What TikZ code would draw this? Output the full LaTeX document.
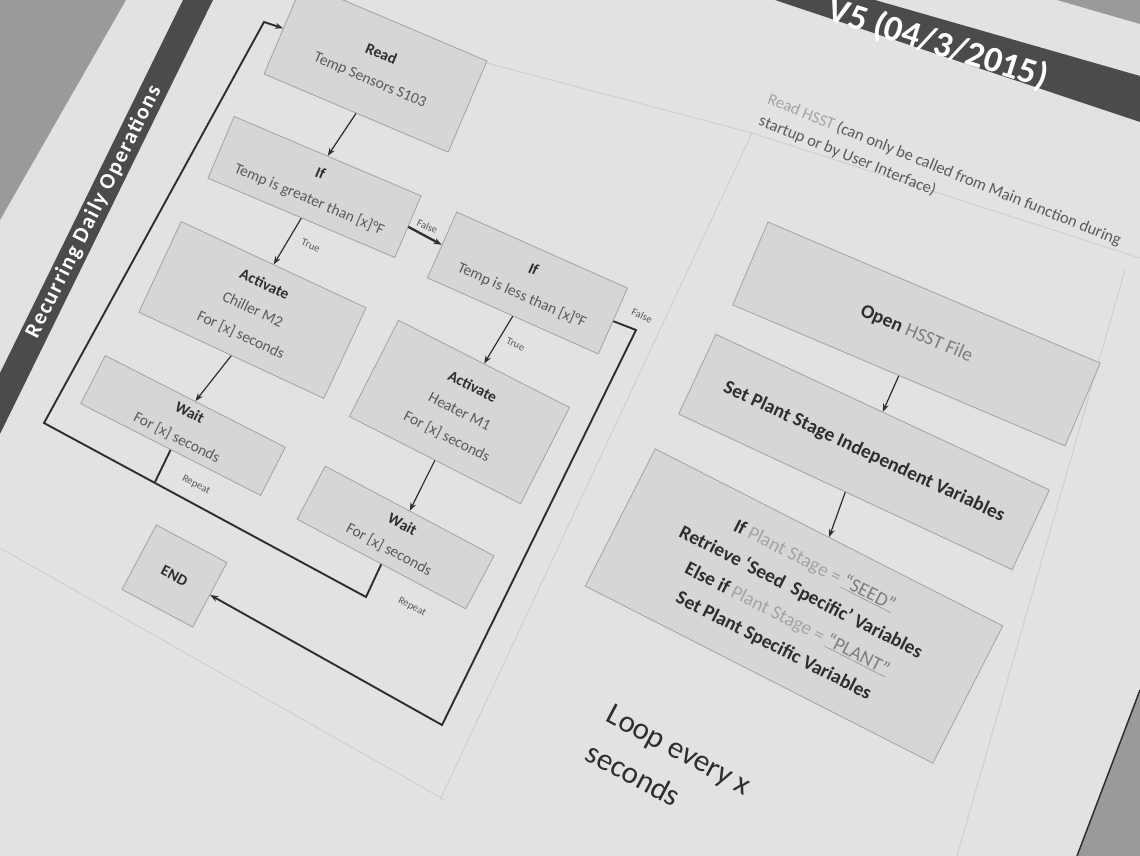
\documentclass[tikz,border=0pt]{standalone}
\usepackage{fontspec}
\setmainfont{Carlito}
\usetikzlibrary{arrows.meta}

\definecolor{pagegrey}{HTML}{E2E2E2}
\definecolor{offpage}{HTML}{9A9A9A}
\definecolor{bandgrey}{HTML}{4B4B4B}
\definecolor{boxfill}{HTML}{D6D6D6}
\definecolor{boxline}{HTML}{A2A2A2}
\definecolor{faintline}{HTML}{CDCDCD}
\definecolor{inkdark}{HTML}{2E2E2E}
\definecolor{inkgrey}{HTML}{5A5A5A}
\definecolor{inkmid}{HTML}{7E7E7E}
\definecolor{inklight}{HTML}{A4A4A4}

\newcommand{\boxhead}[1]{\textcolor{inkdark}{\bfseries #1}}
\newcommand{\dimtext}[1]{\textcolor{inklight}{#1}}

\tikzset{
  box/.style={draw=boxline, fill=boxfill, line width=0.8pt, inner sep=0pt,
    align=center, text=inkgrey, font=\fontsize{15.5}{28}\selectfont},
  bigbox/.style={box, text=inkdark, font=\fontsize{19.5}{30}\selectfont},
  flow/.style={draw=inkdark, line width=1.2pt, -{Stealth[length=8pt,width=6pt]}},
  loopline/.style={draw=inkdark, line width=1.9pt},
  tag/.style={text=inkgrey, font=\fontsize{10.5}{11}\selectfont, inner sep=1pt},
  bandtext/.style={text=white, inner sep=0pt},
  faint/.style={draw=faintline, line width=0.9pt},
}

\begin{document}
\begin{tikzpicture}[x=1pt, y=-1pt]
  \useasboundingbox (0,0) rectangle (1140,856);
  \clip (0,0) rectangle (1140,856);

  % Drawing the sheet and what lies beyond it
  \fill[pagegrey] (0,0) rectangle (1140,856);%
  \fill[offpage] (0,0) -- (126,0) -- (0,220) -- cycle;%
  \fill[offpage] (1057,0) -- (1140,0) -- (1140,24) -- cycle;%
  \fill[offpage] (1140,690) -- (1077,856) -- (1140,856) -- cycle;%
  \draw[inkdark, line width=1.5pt] (1140,690) -- (1077,856);%

  % Drawing faint table rules
  \draw[faint] (487,63) -- (752,133) -- (1140,258);%
  \draw[faint] (752,133) -- (440,800);%
  \draw[faint] (0,548) -- (445,800);%
  \draw[faint] (1125,270) -- (957,856);%

  % Drawing side band
  \fill[bandgrey] (183,0) -- (213,0) -- (0,434) -- (0,373) -- cycle;%
  \node[bandtext, rotate=63.5, font=\bfseries\fontsize{22}{22}\selectfont\addfontfeatures{LetterSpace=7}] (sideband) at (94,212) {Recurring Daily Operations};%

  % Drawing header band
  \fill[bandgrey] (775,0) -- (875,0) -- (1140,76) -- (1140,122) -- cycle;%
  \node[bandtext, rotate=-17.5, font=\bfseries\fontsize{36}{36}\selectfont] (version) at (938,44) {V5 (04/3/2015)};%

  % Drawing boxes of the sensor loop
  \node[box, rotate=-23, minimum width=200pt, minimum height=99pt] (read) at (375.5,67.5) {\boxhead{Read}\\Temp Sensors S103};%
  \node[box, rotate=-23, minimum width=203pt, minimum height=67pt] (ifhot) at (314.5,187) {\boxhead{If}\\Temp is greater than [x]°F};%
  \node[box, rotate=-24, minimum width=187pt, minimum height=72pt] (ifcold) at (527.5,283) {\boxhead{If}\\Temp is less than [x]°F};%
  \node[box, rotate=-25, minimum width=204pt, minimum height=100pt] (chiller) at (252.5,310) {\boxhead{Activate}\\Chiller M2\\For [x] seconds};%
  \node[box, rotate=-27, minimum width=202pt, minimum height=54pt] (waitchill) at (183,425.5) {\boxhead{Wait}\\For [x] seconds};%
  \node[box, rotate=-27, minimum width=192pt, minimum height=108pt] (heater) at (459.5,412) {\boxhead{Activate}\\Heater M1\\For [x] seconds};%
  \node[box, rotate=-28, minimum width=191pt, minimum height=60pt] (waitheat) at (395.5,537.5) {\boxhead{Wait}\\For [x] seconds};%
  \node[box, rotate=-28, minimum width=80pt, minimum height=73pt] (end) at (174.5,576) {\boxhead{END}};%

  % Drawing arrows of the sensor loop
  \draw[flow] (read.south) -- (ifhot.north);%
  \draw[flow] (ifhot.south) -- (chiller.north) node[tag, midway, right=13pt, rotate=-23] {True};%
  \draw[flow, line width=2.3pt] (ifhot.east) -- (ifcold.west) node[tag, midway, above=4pt, rotate=-24] {False};%
  \draw[flow] (chiller.south) -- (waitchill.north);%
  \draw[flow] (ifcold.south) -- (heater.north) node[tag, midway, right=7pt, rotate=-24] {True};%
  \draw[flow] (heater.south) -- (waitheat.north);%

  % Drawing repeat line back to Read
  \coordinate (repchill) at (155,482);%
  \coordinate (repheat) at (366,597);%
  \coordinate (turnsw) at (44,423);%
  \coordinate (turnnw) at (264,22);%
  \draw[loopline] (waitchill.south) -- (repchill);%
  \draw[loopline, -{Stealth[length=8pt,width=6pt]}] (waitheat.south) -- (repheat) -- (turnsw) -- (turnnw) -- (read.west);%
  \node[tag, rotate=-27] (repchilltag) at (196,485) {Repeat};%
  \node[tag, rotate=-28] (repheattag) at (412,607) {Repeat};%

  % Drawing false line down to END
  \coordinate (turnne) at (636,330);%
  \coordinate (turnse) at (442,725);%
  \draw[loopline, -{Stealth[length=8pt,width=6pt]}] (ifcold.east) -- (turnne) -- (turnse) -- (end.east);%
  \node[tag, rotate=-24] (falsetag) at (642,316) {False};%

  % Drawing HSST note
  \node[rotate=-22, anchor=north west, align=left, inner sep=0pt, text=inkgrey, font=\fontsize{16.5}{23}\selectfont] (hsstnote) at (771,92) {\dimtext{Read HSST} (can only be called from Main function during\\startup or by User Interface)};%

  % Drawing boxes of the HSST steps
  \node[bigbox, rotate=-23, minimum width=361pt, minimum height=90pt] (openhsst) at (916.5,334) {\boxhead{Open} \textcolor{inkmid}{HSST File}};%
  \node[bigbox, rotate=-25, minimum width=368pt, minimum height=88pt] (setvars) at (864,452) {\boxhead{Set Plant Stage Independent Variables}};%
  \node[bigbox, rotate=-27, minimum width=390pt, minimum height=154pt] (stagevars) at (794,606) {\boxhead{If} \dimtext{Plant Stage =} \textcolor{inkmid}{\underline{“SEED”}}\\
    \boxhead{Retrieve ‘Seed\ \ Specific’ Variables}\\
    \boxhead{Else if} \dimtext{Plant Stage =} \textcolor{inkmid}{\underline{“PLANT”}}\\
    \boxhead{Set Plant Specific Variables}};%

  % Drawing arrows of the HSST steps
  \draw[flow] (openhsst.south) -- (setvars.north);%
  \draw[flow] (setvars.south) -- (stagevars.north);%

  % Drawing loop note
  \node[rotate=-28, align=left, inner sep=0pt, text=inkdark, font=\fontsize{31}{44}\selectfont] (loopnote) at (669,769) {Loop every x\\seconds};%
\end{tikzpicture}
\end{document}
